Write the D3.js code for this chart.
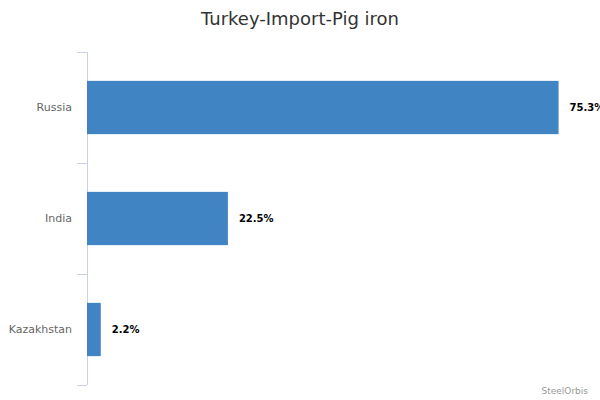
<!DOCTYPE html>
<html>
<head>
<meta charset="utf-8">
<script src="https://cdn.jsdelivr.net/npm/d3@7"></script>
<style>
  body { margin: 0; background: #fff; }
  text { font-family: "DejaVu Sans", sans-serif; }
</style>
</head>
<body>
<div id="chart"></div>
<script>
const countries = ["Russia", "India", "Kazakhstan"];
const shares = [75.3, 22.5, 2.2];

const width = 600, height = 400;
const margin = {top: 52, right: 12, bottom: 15, left: 87};

const svg = d3.select("#chart")
    .append("svg")
    .attr("width", width)
    .attr("height", height);

const x = d3.scaleLinear()
    .domain([0, 80])
    .range([margin.left, width - margin.right]);

const y = d3.scaleBand()
    .domain(countries)
    .range([margin.top, height - margin.bottom])
    .paddingInner(0.52)
    .paddingOuter(0.26);

// title
svg.append("text")
    .attr("x", width / 2)
    .attr("y", 25)
    .attr("text-anchor", "middle")
    .attr("fill", "#333")
    .style("font-size", "18px")
    .text("Turkey-Import-Pig iron");

// category boundaries for the tick marks
const step = (height - margin.bottom - margin.top) / countries.length;
const bounds = d3.range(countries.length + 1).map(i => margin.top + i * step);

svg.append("line")
    .attr("x1", margin.left + 0.5).attr("x2", margin.left + 0.5)
    .attr("y1", margin.top).attr("y2", height - margin.bottom)
    .attr("stroke", "#c8d2e0")
    .attr("stroke-width", 1);

svg.selectAll(".tick")
    .data(bounds)
    .enter()
    .append("line")
    .attr("x1", margin.left - 10).attr("x2", margin.left)
    .attr("y1", d => Math.round(d) + 0.5).attr("y2", d => Math.round(d) + 0.5)
    .attr("stroke", "#c8d2e0");

svg.selectAll(".cat")
    .data(countries)
    .enter()
    .append("text")
    .attr("x", margin.left - 15)
    .attr("y", d => y(d) + y.bandwidth() / 2)
    .attr("dy", "0.35em")
    .attr("text-anchor", "end")
    .attr("fill", "#666")
    .style("font-size", "11px")
    .text(d => d);

svg.selectAll(".bar")
    .data(shares)
    .enter()
    .append("rect")
    .attr("x", x(0))
    .attr("y", (d, i) => y(countries[i]))
    .attr("width", d => x(d) - x(0))
    .attr("height", y.bandwidth())
    .attr("fill", "#4184c3");

svg.selectAll(".val")
    .data(shares)
    .enter()
    .append("text")
    .attr("x", d => x(d) + 11)
    .attr("y", (d, i) => y(countries[i]) + y.bandwidth() / 2)
    .attr("dy", "0.35em")
    .attr("fill", "#000")
    .style("font-size", "10px")
    .style("font-weight", "bold")
    .text(d => d.toFixed(1) + "%");

svg.append("text")
    .attr("x", 588)
    .attr("y", 394)
    .attr("text-anchor", "end")
    .attr("fill", "#999")
    .style("font-size", "9px")
    .text("SteelOrbis");
</script>
</body>
</html>
